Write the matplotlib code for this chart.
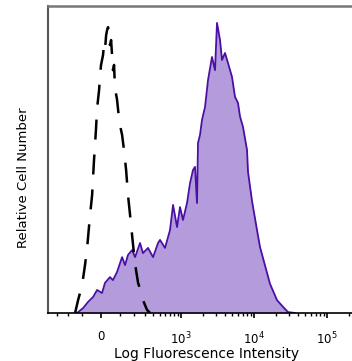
import numpy as np
import matplotlib
matplotlib.use("Agg")
import matplotlib.pyplot as plt

# ===== データ =====
# 染色サンプル（紫）: 蛍光強度とセル数（相対値, 0-100）
stain_x = [-134, -127, -96, -68, -41, -20, 5, 20, 46, 62, 85, 115, 134, 154, 184, 208,
           252, 281, 336, 400, 473, 505, 595, 700, 772, 878, 966, 1063, 1208, 1329,
           1462, 1557, 1659, 1712, 1824, 1943, 2138, 2351, 2666, 2932, 3122, 3433,
           3656, 4020, 4420, 5014, 5512, 6060, 6455, 7095, 8050, 8308, 9426, 11037,
           12131, 14200, 16630, 20740, 25070, 29350, 36580]
stain_y = [0, 0.3, 1.6, 3.6, 5.2, 7.5, 6.5, 9.8, 11.7, 10.7, 13.4, 18.2, 15.6, 18.9,
           20.5, 18.2, 22.8, 19.5, 21.2, 18.2, 22.8, 23.8, 21.2, 27.0, 35.2, 28.0,
           34.5, 30.3, 35.8, 42.3, 46.6, 47.6, 35.8, 55.4, 58.0, 62.9, 67.1, 75.9,
           83.4, 79.1, 94.5, 88.9, 82.4, 84.7, 81.4, 76.9, 70.4, 68.4, 64.0, 60.6,
           53.1, 46.0, 36.5, 27.0, 21.5, 15.5, 9.5, 4.2, 2.0, 0.3, 0]

# アイソタイプコントロール（黒破線）
iso_x = [-147, -127, -102, -85, -73, -57, -46, -36, -26, -20, -10, -5, 0, 10, 15, 20,
         26, 31, 36, 41, 46, 52, 57, 62, 68, 73, 85, 91, 102, 115, 127, 141, 154,
         169, 184, 200, 216, 234, 262, 281, 302, 325, 361]
iso_y = [0, 4.2, 9.1, 15.6, 21.2, 31.9, 38.4, 49.8, 59.6, 66.8, 72.6, 77.5, 80.8,
         84.0, 87.3, 85.7, 90.5, 92.2, 93.1, 90.5, 87.3, 88.9, 84.0, 79.1, 80.8,
         73.3, 69.4, 66.1, 61.2, 58.0, 53.1, 46.6, 38.4, 31.9, 25.4, 18.9, 14.0,
         9.8, 6.8, 4.2, 2.6, 1.0, 0]

major_ticks = [0, 1e3, 1e4, 1e5]
major_labels = ['0', '$10^{3}$', '$10^{4}$', '$10^{5}$']
minor_ticks = ([-300, -200, -100] + list(range(100, 1000, 100))
               + list(range(2000, 10000, 1000)) + list(range(20000, 100000, 10000))
               + [200000])

# ===== 双指数（logicle風）スケール =====
W = 161.0
def fwd(x):
    return np.arcsinh(np.asarray(x, dtype=float) / W) / np.log(10)

def inv(y):
    return W * np.sinh(np.asarray(y, dtype=float) * np.log(10))

fig = plt.figure(figsize=(3.52, 3.61), dpi=100)
ax = fig.add_axes([48 / 352, 48 / 361, 1 - 48 / 352, 307 / 361])
ax.set_xscale('function', functions=(fwd, inv))

ax.fill_between(stain_x, stain_y, 0, color='#b49bdb', linewidth=0)
ax.plot(stain_x, stain_y, color='#4a10a4', lw=1.3)
ax.plot(iso_x, iso_y, color='black', lw=1.8, linestyle=(0, (8, 6)))

ax.set_xlim(-414, 221000)
ax.set_ylim(0, 100)

ax.set_xticks(major_ticks)
ax.set_xticklabels(major_labels, fontsize=8.5)
ax.set_xticks(minor_ticks, minor=True)
ax.tick_params(axis='x', which='major', length=3.5, width=1.2, direction='out', pad=9)
ax.tick_params(axis='x', which='minor', length=2.5, width=1.0, direction='out')
ax.set_yticks([])

ax.spines['right'].set_visible(False)
ax.spines['top'].set_color('#777777')
ax.spines['top'].set_linewidth(1.8)
ax.spines['left'].set_color('#555555')
ax.spines['left'].set_linewidth(1.5)
ax.spines['bottom'].set_color('black')
ax.spines['bottom'].set_linewidth(1.2)

ax.set_xlabel('Log Fluorescence Intensity', fontsize=10)
ax.xaxis.set_label_coords(0.523, -0.112)
ax.set_ylabel('Relative Cell Number', fontsize=9.5)
ax.yaxis.set_label_coords(-0.06, 0.44)

plt.savefig("out.png", dpi=100)
